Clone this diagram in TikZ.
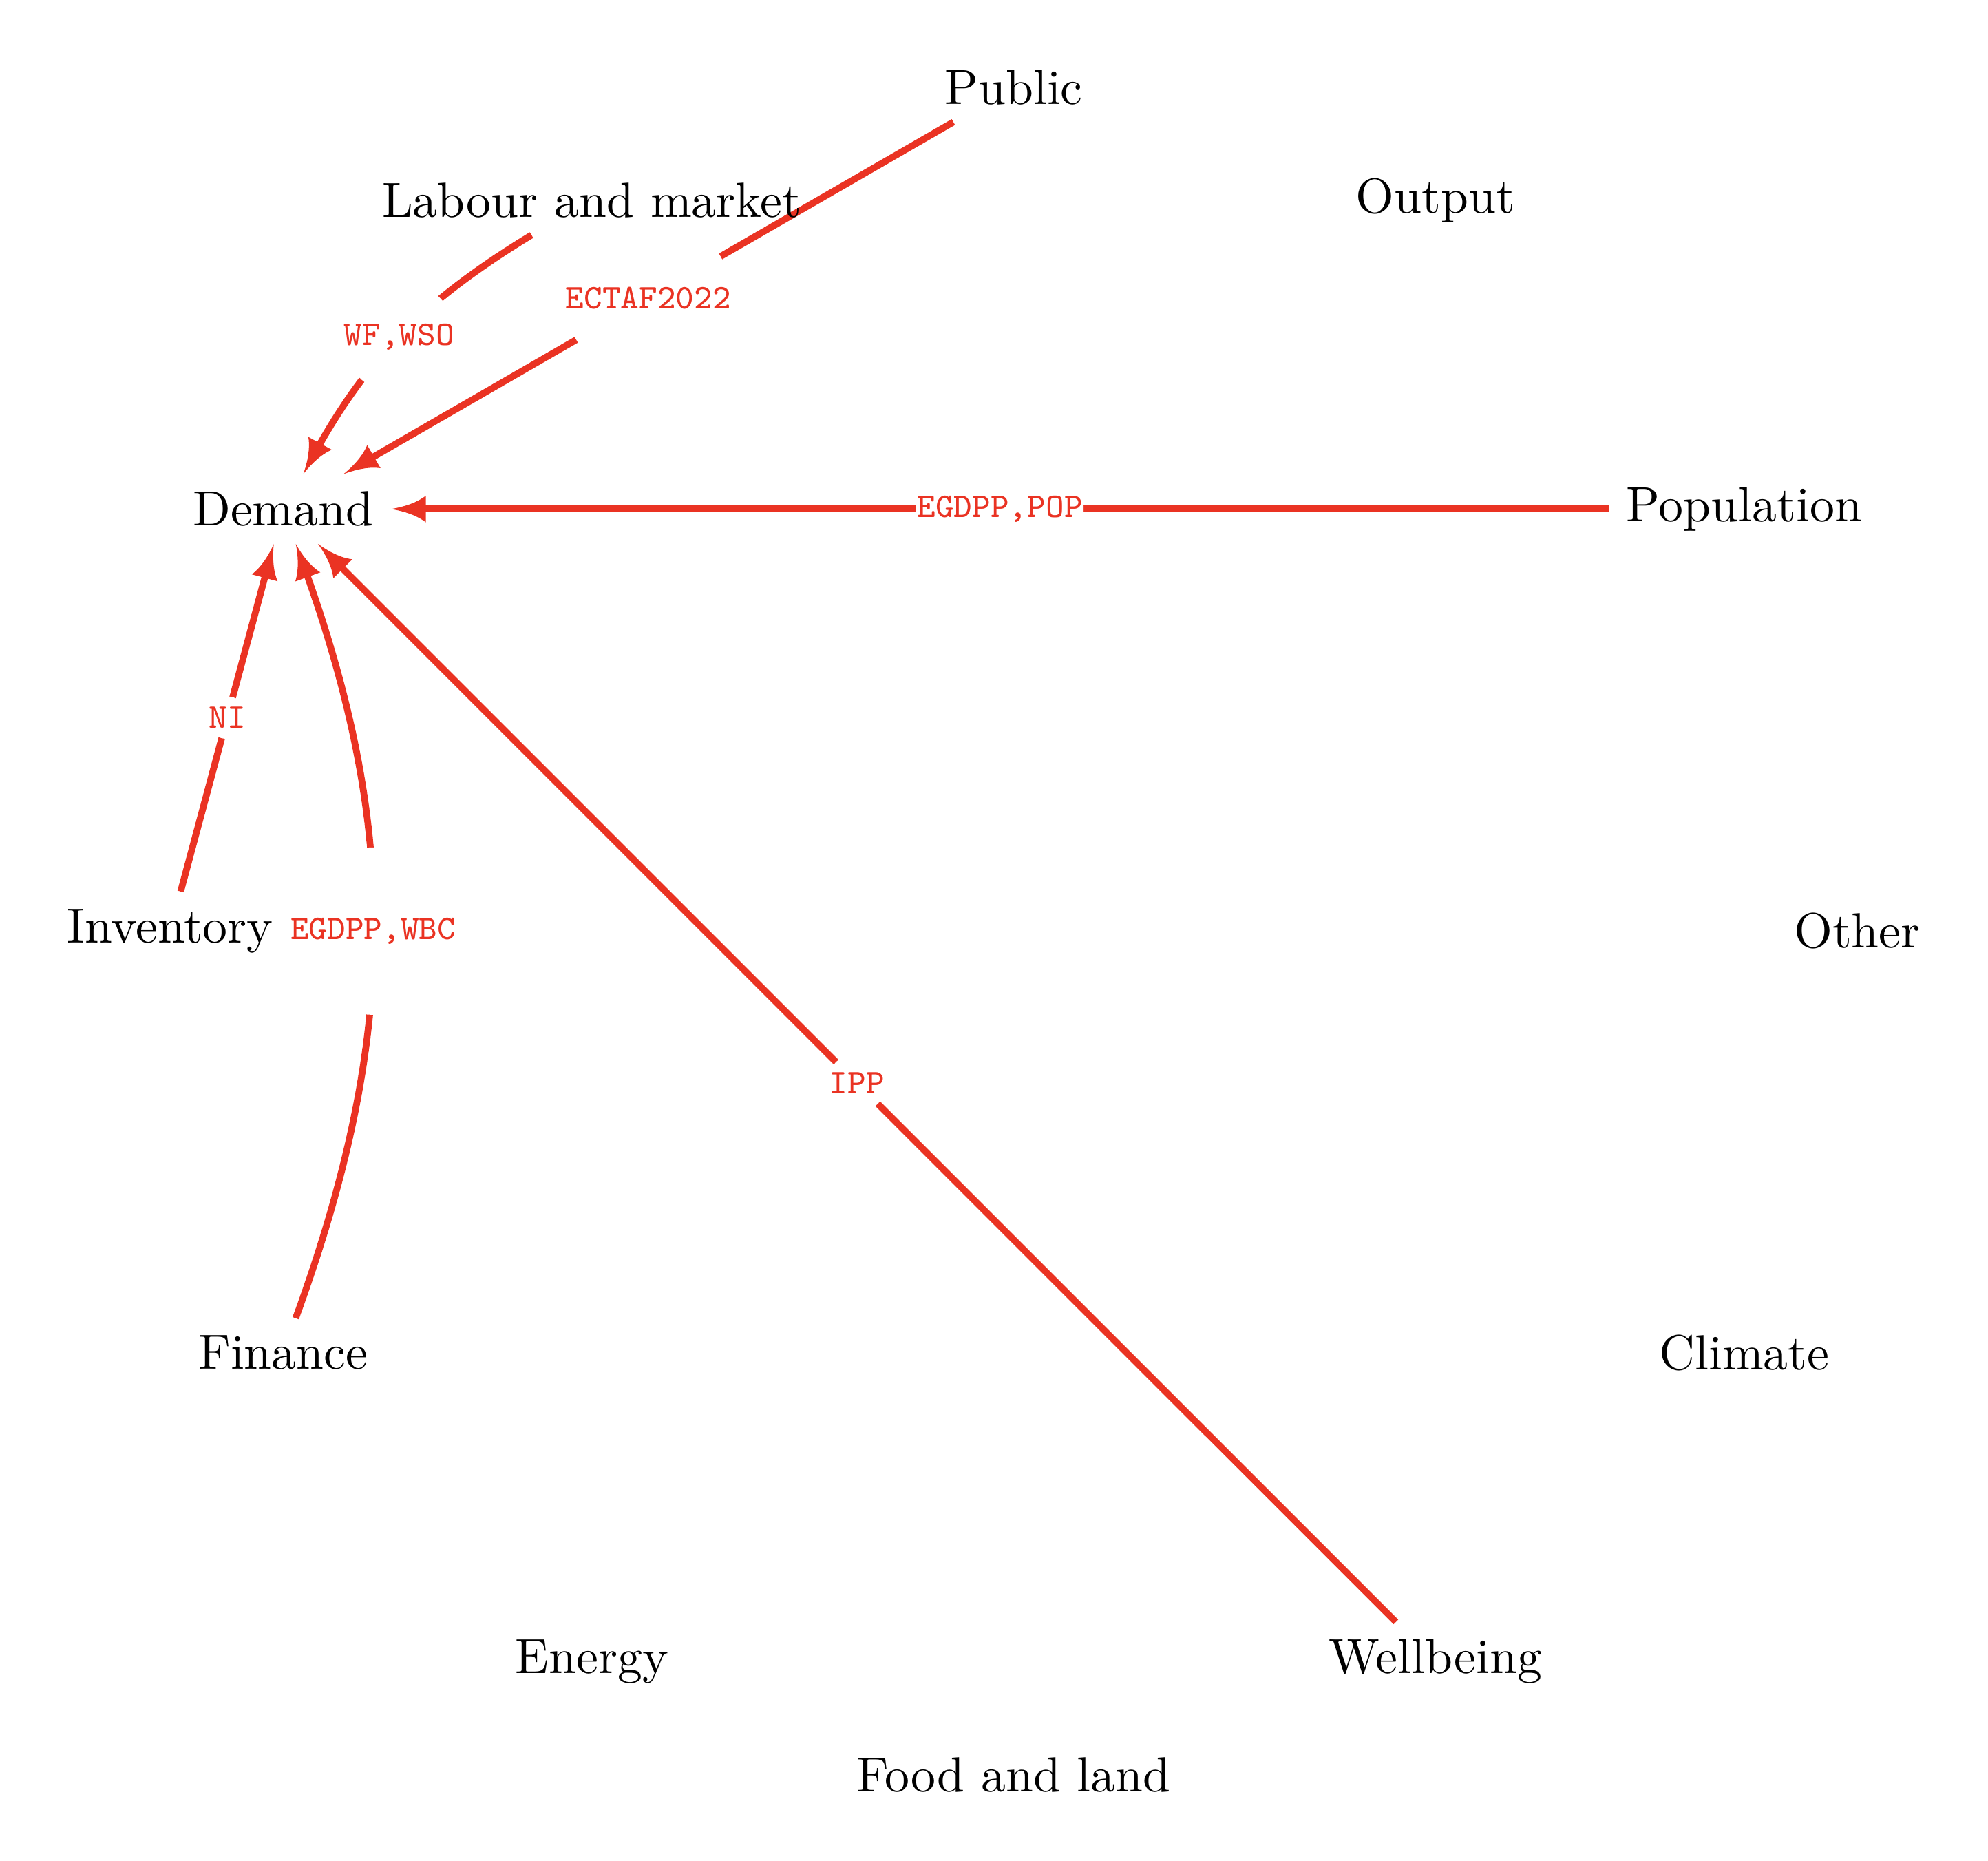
\documentclass[tikz,border=0pt]{standalone}
\usepackage{tikz}
\usetikzlibrary{arrows.meta,backgrounds}

\definecolor{linkred}{RGB}{234,51,35}

\pgfdeclarearrow{
	name = Spike,
	setup code = {
		\pgfarrowssettipend{0pt}
		\pgfarrowssetlineend{-4pt}
		\pgfarrowssetbackend{-7.1pt}
		\pgfarrowshullpoint{0pt}{0pt}
		\pgfarrowsupperhullpoint{-7.1pt}{2.7pt}
	},
	drawing code = {
		\pgfpathmoveto{\pgfqpoint{0pt}{0pt}}
		\pgfpathcurveto{\pgfqpoint{-2.8pt}{0.45pt}}{\pgfqpoint{-5.3pt}{1.3pt}}{\pgfqpoint{-7.1pt}{2.7pt}}
		\pgfpathlineto{\pgfqpoint{-7.1pt}{-2.7pt}}
		\pgfpathcurveto{\pgfqpoint{-5.3pt}{-1.3pt}}{\pgfqpoint{-2.8pt}{-0.45pt}}{\pgfqpoint{0pt}{0pt}}
		\pgfpathclose
		\pgfusepathqfill
	}
}

\tikzset{
	link/.style={draw=linkred, line width=1.35pt, -{Spike}},
	tag/.style={circle, fill=white, inner sep=0pt, text=linkred, font=\ttfamily\scriptsize}
}

\begin{document}
\begin{tikzpicture}
	
	\useasboundingbox (-7.21,-6.61) rectangle (6.93,6.62);
	
	% sectors round the circle
	\node (pub) at (90:6) {Public};
	\node (out) at (60:6) {Output};
	\node (pop) at (30:6) {Population};
	\node (oth) at (0:6) {Other};
	\node (cli) at (-30:6) {Climate};
	\node (wel) at (-60:6) {Wellbeing};
	\node (foo) at (-90:6) {Food and land};
	\node (ene) at (-120:6) {Energy};
	\node (fin) at (-150:6) {Finance};
	\node (inv) at (180:6) {Inventory};
	\node (dem) at (150:6) {Demand};
	\node (lab) at (120:6) {Labour and market};
	
	% links into demand
	\begin{scope}[on background layer]
		\draw[link] (lab) to[bend right=15] node[tag] {WF,WSO} (dem);
		\draw[link] (pub) -- node[tag] {ECTAF2022} (dem);
		\draw[link] (pop) -- node[tag] {EGDPP,POP} (dem);
		\draw[link] (inv) -- node[tag] {NI} (dem);
		\draw[link] (fin) to[bend right=20] node[tag] {EGDPP,WBC} (dem);
		\draw[link] (wel) -- node[tag] {IPP} (dem);
	\end{scope}
	
\end{tikzpicture}
\end{document}
